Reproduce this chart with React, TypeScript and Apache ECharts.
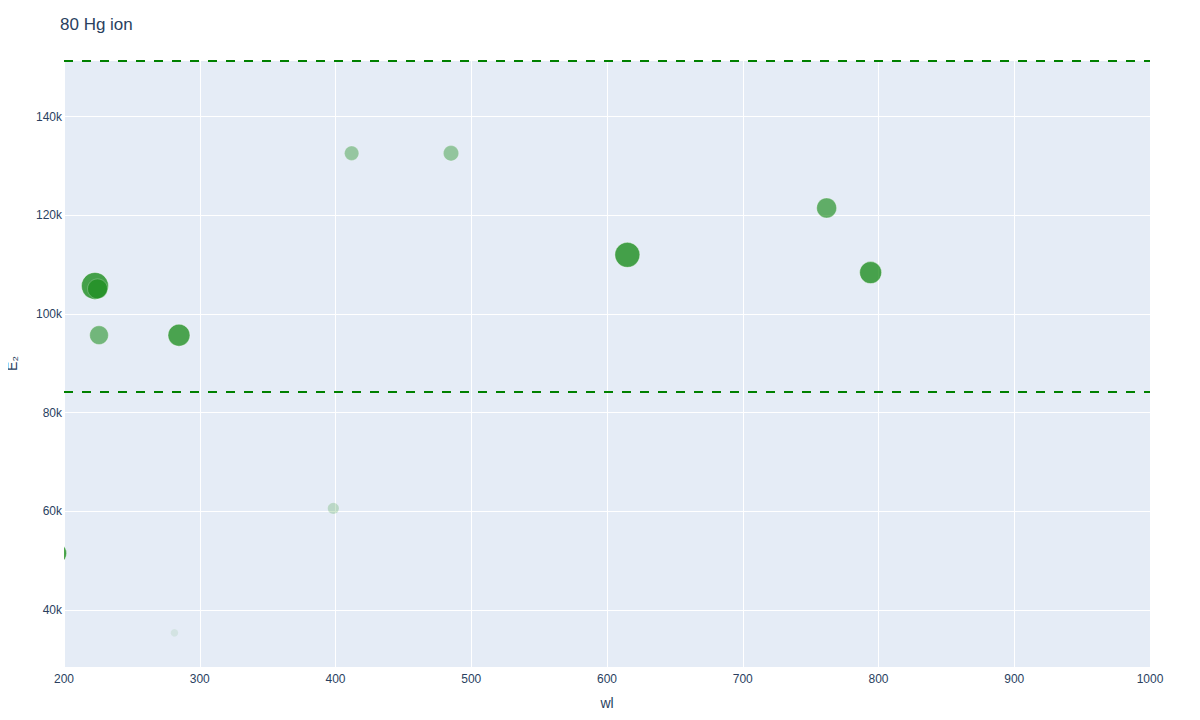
import { useEffect, useRef } from 'react'
import * as echarts from 'echarts'

// ── Data ─────────────────────────────────────────────────────────────────────

// wavelength (nm)
const wl = [194.2, 222.8, 224.7, 225.8, 284.7, 281.3, 398.4, 411.9, 485.1, 615.0, 761.8, 794.2]
// upper level energy (cm^-1)
const e2 = [51485, 105700, 105100, 95714, 95714, 35514, 60608, 132600, 132600, 112000, 121500, 108400]
// marker diameter (px)
const sizes = [21, 27, 20, 18.7, 22, 7.7, 11.3, 14.3, 15.3, 25, 20, 22]
// marker opacity
const opacities = [0.7, 0.7, 0.4, 0.5, 0.68, 0.08, 0.19, 0.35, 0.36, 0.7, 0.58, 0.69]

// ionisation limits drawn as dashed lines
const limits = [151284, 84184]

const xRange = [200, 1000]
const yRange = [28450, 151500]
const title = '80 Hg ion'

const FONT = '"Liberation Sans", Arial, sans-serif'
const INK = '#2a3f5f'

export default function App() {
  const ref = useRef<HTMLDivElement>(null)

  useEffect(() => {
    if (!ref.current) return
    const chart = echarts.init(ref.current, null, { renderer: 'svg' })

    const points = wl.map((x, i) => [x, e2[i], sizes[i], opacities[i]])

    chart.setOption({
      animation: false,
      backgroundColor: '#fff',
      title: {
        text: title,
        left: 60,
        top: 16,
        padding: 0,
        textStyle: { fontFamily: FONT, fontSize: 17, fontWeight: 'normal', color: INK },
      },
      grid: {
        left: 64,
        right: 50,
        top: 60,
        bottom: 53,
        outerBoundsMode: 'none',
        containLabel: false,
        show: true,
        backgroundColor: '#E5ECF6',
        borderWidth: 0,
      },
      xAxis: {
        type: 'value',
        min: xRange[0],
        max: xRange[1],
        interval: 100,
        name: 'wl',
        nameLocation: 'middle',
        nameGap: 29,
        nameTextStyle: { fontFamily: FONT, fontSize: 14, color: INK },
        axisLine: { show: false },
        axisTick: { show: false },
        axisLabel: {
          fontFamily: FONT,
          fontSize: 12,
          color: INK,
          margin: 6,
          formatter: (v: number) => String(v),
        },
        splitLine: { lineStyle: { color: '#fff', width: 1 } },
      },
      yAxis: {
        type: 'value',
        min: yRange[0],
        max: yRange[1],
        splitNumber: 6,
        name: 'E₂',
        nameLocation: 'middle',
        nameGap: 45,
        nameTextStyle: { fontFamily: FONT, fontSize: 14, color: INK },
        axisLine: { show: false },
        axisTick: { show: false },
        axisLabel: {
          fontFamily: FONT,
          fontSize: 12,
          color: INK,
          margin: 2,
          showMinLabel: false,
          showMaxLabel: false,
          formatter: (v: number) => `${Math.round(v / 1000)}k`,
        },
        splitLine: { lineStyle: { color: '#fff', width: 1 } },
      },
      series: [
        {
          type: 'custom',
          clip: true,
          data: points,
          encode: { x: 0, y: 1 },
          renderItem: (_params: any, api: any) => {
            const c = api.coord([api.value(0), api.value(1)])
            const r = api.value(2) / 2
            return {
              type: 'circle',
              shape: { cx: c[0], cy: c[1], r },
              style: {
                fill: '#008000',
                stroke: '#ffffff',
                lineWidth: 0.6,
                opacity: api.value(3),
              },
            }
          },
          markLine: {
            silent: true,
            symbol: ['none', 'none'],
            label: { show: false },
            lineStyle: { color: '#008000', width: 2, type: [9, 9] },
            data: limits.map((v) => ({ yAxis: v })),
          },
        },
      ],
    })

    return () => chart.dispose()
  }, [])

  return <div ref={ref} style={{ width: 1200, height: 720, margin: -8 }} />
}
